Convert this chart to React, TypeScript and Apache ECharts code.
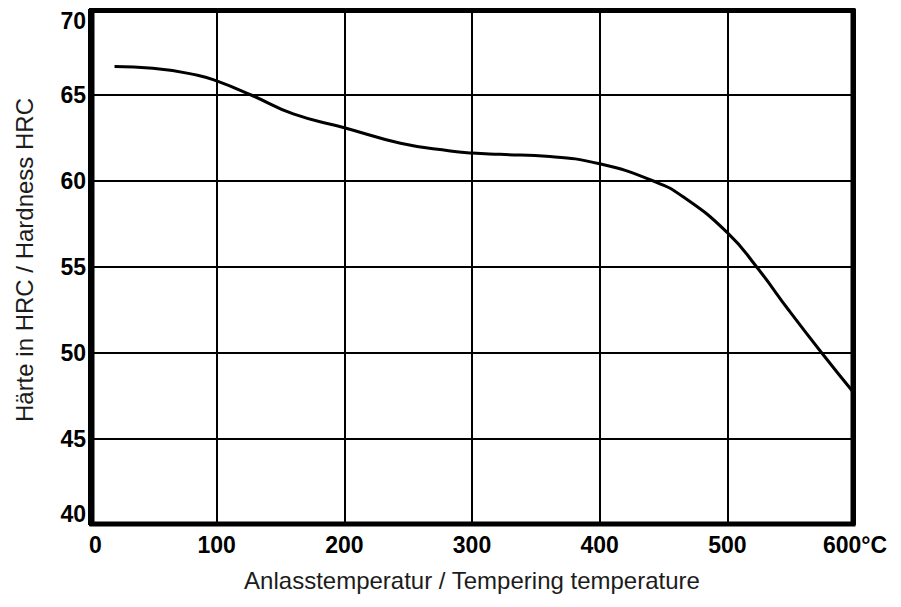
import React, { useEffect, useRef } from "react";
import * as echarts from "echarts";

const temperatures = [20, 50, 85, 100, 127, 160, 200, 244, 283, 300, 322, 361, 400, 442, 465, 500, 523, 548, 574, 600];
const hardness = [66.65, 66.55, 66.15, 65.82, 65.0, 63.9, 63.1, 62.2, 61.75, 61.63, 61.55, 61.42, 61.0, 60.0, 59.1, 57.0, 55.0, 52.5, 50.0, 47.6];
const xTitle = "Anlasstemperatur / Tempering temperature";
const yTitle = "Härte in HRC / Hardness HRC";
const maxXLabel = "600°C";

export default function App() {
  const ref = useRef<HTMLDivElement>(null);
  useEffect(() => {
    if (!ref.current) return;
    const chart = echarts.init(ref.current, null, { renderer: "svg" });
    const data = temperatures.map((t, i) => [t, hardness[i]]);
    chart.setOption({
      animation: false,
      backgroundColor: "#ffffff",
      grid: { left: 89, right: 46, top: 9, bottom: 82 },
      xAxis: {
        type: "value",
        min: 0,
        max: 600,
        interval: 100,
        name: xTitle,
        nameLocation: "middle",
        nameGap: 43,
        nameTextStyle: { fontFamily: "Liberation Sans", fontSize: 24, color: "#1c1c1c" },
        axisLine: { show: false },
        axisTick: { show: false },
        axisLabel: {
          fontFamily: "Liberation Sans",
          fontWeight: "bold",
          fontSize: 23,
          color: "#000",
          margin: 8,
          alignMinLabel: "left",
          formatter: (v: number) => (v === 600 ? maxXLabel : String(v)),
        },
        splitLine: { show: true, lineStyle: { color: "#000", width: 2 } },
      },
      yAxis: {
        type: "value",
        min: 40,
        max: 70,
        interval: 5,
        name: yTitle,
        nameLocation: "middle",
        nameGap: 53,
        nameRotate: 90,
        nameTextStyle: {
          fontFamily: "Liberation Sans",
          fontSize: 24,
          color: "#1c1c1c",
          padding: [0, 0, 0, 14],
        },
        axisLine: { show: false },
        axisTick: { show: false },
        axisLabel: {
          fontFamily: "Liberation Sans",
          fontWeight: "bold",
          fontSize: 23,
          color: "#000",
          margin: 3,
          verticalAlignMaxLabel: "top",
          verticalAlignMinLabel: "bottom",
        },
        splitLine: { show: true, lineStyle: { color: "#000", width: 2 } },
      },
      graphic: [
        {
          type: "rect",
          z: 100,
          shape: { x: 92, y: 10.5, width: 761, height: 513.5 },
          style: { fill: "none", stroke: "#000", lineWidth: 5 },
        },
      ],
      series: [
        {
          type: "line",
          data,
          smooth: 0.5,
          showSymbol: false,
          symbol: "none",
          lineStyle: { color: "#000", width: 3 },
          clip: true,
        },
      ],
    });
    return () => chart.dispose();
  }, []);
  return (
    <div
      ref={ref}
      style={{ position: "fixed", left: 0, top: 0, width: 901, height: 607, background: "#fff" }}
    />
  );
}
